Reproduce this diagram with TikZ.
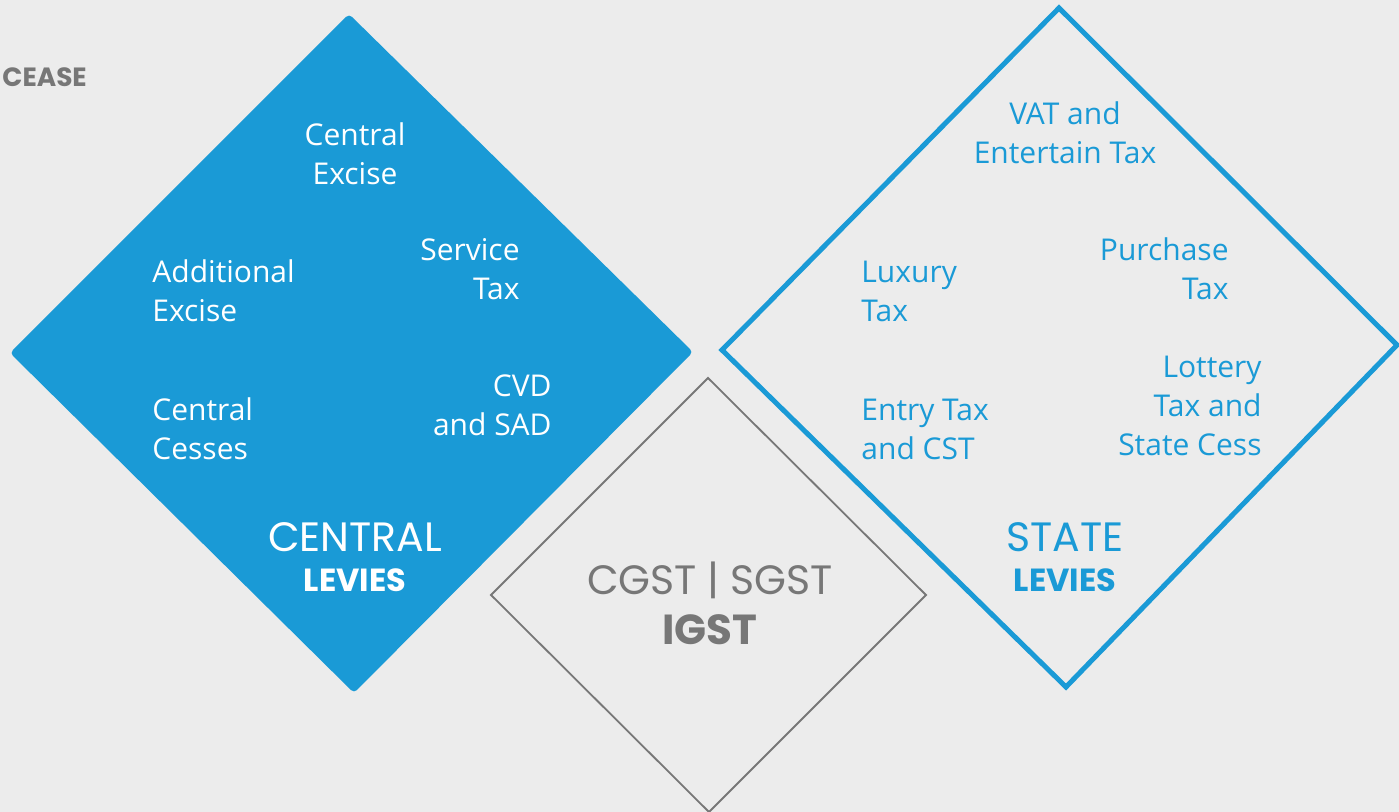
\documentclass[tikz,border=0pt]{standalone}
\usepackage{fontspec}
\setmainfont{Open Sans}
\newfontfamily\titlefont{Poppins}
\usetikzlibrary{positioning}
\definecolor{levyblue}{HTML}{1A9AD6}
\definecolor{inkgrey}{HTML}{777777}
\definecolor{paper}{HTML}{ECECEC}
\tikzset{
    item/.style = {
        font=\fontsize{15}{19.5}\selectfont, inner sep=0pt
    },
    heading/.style = {
        font=\titlefont\fontsize{20.5}{23}\selectfont, inner sep=0pt
    },
    subheading/.style = {
        font=\titlefont\bfseries\fontsize{16}{18}\selectfont, inner sep=0pt
    },
}
\begin{document}
\begin{tikzpicture}[x=0.5pt, y=-0.5pt]
        % Page and background
        \useasboundingbox (0,0) rectangle (1399,812);
        \fill[paper] (0,0) rectangle (1399,812);
        \node[subheading, text=inkgrey, anchor=west, font=\titlefont\bfseries\fontsize{13.2}{15}\selectfont] (cease) at (2,77) {CEASE};

        % Corners of the three diamonds
        \coordinate (ct) at (349,14);   \coordinate (cl) at (10,353);
        \coordinate (cb) at (354,693);  \coordinate (cr) at (693,352);
        \coordinate (st) at (1059,8);   \coordinate (sl) at (722,350);
        \coordinate (sb) at (1066,687); \coordinate (sr) at (1397,345);
        \coordinate (gt) at (708,378);  \coordinate (gl) at (491,595);
        \coordinate (gb) at (709,812);  \coordinate (gr) at (926,595);

        % Draw the diamonds
        \fill[levyblue, rounded corners=2pt] (ct) -- (cr) -- (cb) -- (cl) -- cycle;
        \draw[levyblue, line width=2.5pt, line join=miter] (st) -- (sr) -- (sb) -- (sl) -- cycle;
        \draw[inkgrey, line width=0.9pt] (gt) -- (gr) -- (gb) -- (gl) -- cycle;

        % Central levies
        \begin{scope}[every node/.append style={text=white}]
            \node[item, align=center] (excise) at (355,154) {Central\\Excise};
            \node[item, align=left, anchor=west] (addl) at (152,291) {Additional\\Excise};
            \node[item, align=right, anchor=east] (service) at (520,269) {Service\\Tax};
            \node[item, align=left, anchor=west] (cesses) at (152,429) {Central\\Cesses};
            \node[item, align=right, anchor=east] (cvd) at (552,405) {CVD\\and SAD};
            \node[heading] (central) at (355,537) {CENTRAL};
            \node[subheading] (clevies) at (355,580) {LEVIES};
        \end{scope}

        % State levies
        \begin{scope}[every node/.append style={text=levyblue}]
            \node[item, align=center] (vat) at (1065,133) {VAT and\\Entertain Tax};
            \node[item, align=left, anchor=west] (luxury) at (861,291) {Luxury\\Tax};
            \node[item, align=right, anchor=east] (purchase) at (1229,269) {Purchase\\Tax};
            \node[item, align=left, anchor=west] (entry) at (861,429) {Entry Tax\\and CST};
            \node[item, align=right, anchor=east] (lottery) at (1262,406) {Lottery\\Tax and\\State Cess};
            \node[heading] (state) at (1065,537) {STATE};
            \node[subheading] (slevies) at (1065,580) {LEVIES};
        \end{scope}

        % GST in the middle
        \node[heading, text=inkgrey] (cgst) at (710,580) {CGST | SGST};
        \node[subheading, text=inkgrey, font=\titlefont\bfseries\fontsize{21}{24}\selectfont] (igst) at (710,630) {IGST};
\end{tikzpicture}
\end{document}
